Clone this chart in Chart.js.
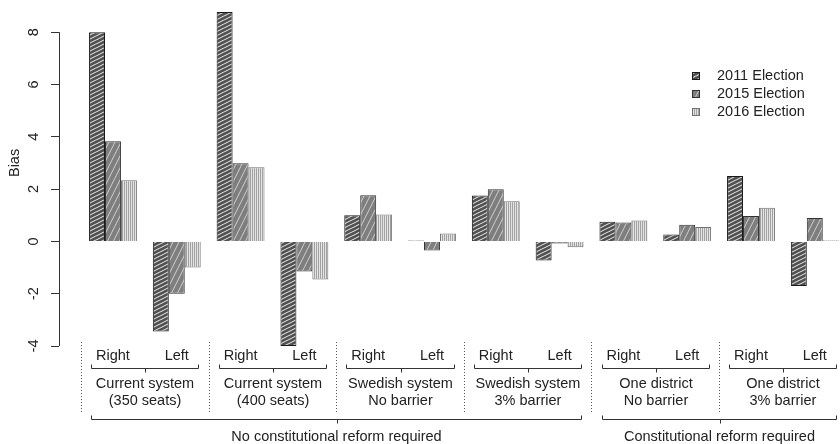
<!DOCTYPE html>
<html>
<head>
<meta charset="utf-8">
<script src="https://cdn.jsdelivr.net/npm/chart.js@4"></script>
<style>
  html, body { margin: 0; padding: 0; background: #fff; overflow: hidden; }
  canvas { display: block; }
</style>
</head>
<body>
<canvas id="chart" width="840" height="444"></canvas>
<script>
  // categories
  const sides = ['Right', 'Left', 'Right', 'Left', 'Right', 'Left', 'Right', 'Left', 'Right', 'Left', 'Right', 'Left'];
  const systems = [
    ['Current system', '(350 seats)'],
    ['Current system', '(400 seats)'],
    ['Swedish system', 'No barrier'],
    ['Swedish system', '3% barrier'],
    ['One district', 'No barrier'],
    ['One district', '3% barrier'],
  ];
  const reforms = ['No constitutional reform required', 'Constitutional reform required'];
  const reformSystems = [[0, 1, 2, 3], [4, 5]];
  const elections = ['2011 Election', '2015 Election', '2016 Election'];

  // series values (bias)
  const bias2011 = [8.0, -3.45, 8.77, -4.0, 1.0, 0.03, 1.75, -0.73, 0.75, 0.26, 2.5, -1.71];
  const bias2015 = [3.83, -2.0, 2.99, -1.15, 1.76, -0.35, 1.99, -0.08, 0.72, 0.64, 0.97, 0.89];
  const bias2016 = [2.34, -1.0, 2.83, -1.46, 1.03, 0.3, 1.53, -0.22, 0.8, 0.55, 1.29, 0.04];

  const yTicks = [-4, -2, 0, 2, 4, 6, 8];

  const FONT = "'Liberation Sans', Arial, sans-serif";
  const TEXT = '#222';
  Chart.defaults.font.family = FONT;
  Chart.defaults.font.size = 14.5;
  Chart.defaults.color = TEXT;

  const canvas = document.getElementById('chart');
  const mainCtx = canvas.getContext('2d');

  // small repeating tile -> canvas pattern
  function tile(w, h, bg, draw) {
    const c = document.createElement('canvas');
    c.width = w;
    c.height = h;
    const g = c.getContext('2d');
    g.fillStyle = bg;
    g.fillRect(0, 0, w, h);
    draw(g);
    return mainCtx.createPattern(c, 'repeat');
  }

  // dense shallow diagonal hatch
  const fill2011 = tile(8, 4, '#505050', (g) => {
    g.strokeStyle = '#dadada';
    g.lineWidth = 1.1;
    g.beginPath();
    for (let k = -1; k <= 1; k++) { g.moveTo(0, 4 + 4 * k); g.lineTo(8, 4 * k); }
    g.stroke();
  });
  // sparse steep diagonal hatch
  const fill2015 = tile(6, 12, '#7e7e7e', (g) => {
    g.strokeStyle = '#cfcfcf';
    g.lineWidth = 1;
    g.beginPath();
    for (let k = -1; k <= 1; k++) { g.moveTo(6 * k, 12); g.lineTo(6 + 6 * k, 0); }
    g.stroke();
  });
  // vertical stripes
  const fill2016 = tile(2, 1, '#e4e4e4', (g) => {
    g.fillStyle = '#a2a2a2';
    g.fillRect(0, 0, 1, 1);
  });

  const toPoints = (arr) => arr.map((v, i) => ({ x: i, y: v }));

  const annotations = {
    id: 'annotations',
    afterDraw(chart) {
      const ctx = chart.ctx;
      const xs = chart.scales.x;
      const ys = chart.scales.y;
      const area = chart.chartArea;
      const base = area.bottom;
      const unit = xs.getPixelForValue(1) - xs.getPixelForValue(0);
      const px = (v) => xs.getPixelForValue(v);

      ctx.save();
      ctx.font = `14.5px ${FONT}`;
      ctx.fillStyle = TEXT;
      ctx.strokeStyle = '#333';
      ctx.lineWidth = 1;

      // y axis line only between the extreme ticks
      const ax = Math.round(area.left) + 0.5;
      ctx.beginPath();
      ctx.moveTo(ax, ys.getPixelForValue(yTicks[0]));
      ctx.lineTo(ax, ys.getPixelForValue(yTicks[yTicks.length - 1]));
      ctx.stroke();

      // y title
      ctx.save();
      ctx.translate(15, ys.getPixelForValue(3));
      ctx.rotate(-Math.PI / 2);
      ctx.textAlign = 'center';
      ctx.textBaseline = 'middle';
      ctx.fillText('Bias', 0, 0);
      ctx.restore();

      // Right / Left labels
      ctx.textAlign = 'center';
      ctx.textBaseline = 'middle';
      sides.forEach((s, i) => ctx.fillText(s, px(i), base + 10));

      const bracket = (x0, x1, y, up, down) => {
        const mid = (x0 + x1) / 2;
        ctx.beginPath();
        ctx.moveTo(x0, y - up);
        ctx.lineTo(x0, y);
        ctx.lineTo(x1, y);
        ctx.lineTo(x1, y - up);
        ctx.moveTo(Math.round(mid) + 0.5, y);
        ctx.lineTo(Math.round(mid) + 0.5, y + down);
        ctx.stroke();
        return mid;
      };

      // system brackets and labels
      systems.forEach((lines, s) => {
        const x0 = Math.round(px(2 * s) - 0.34 * unit) + 0.5;
        const x1 = Math.round(px(2 * s + 1) + 0.34 * unit) + 0.5;
        const mid = bracket(x0, x1, base + 22.5, 4, 4);
        ctx.fillText(lines[0], mid, base + 38);
        ctx.fillText(lines[1], mid, base + 55);
      });

      // dotted separators
      ctx.save();
      ctx.setLineDash([1, 2]);
      ctx.strokeStyle = '#555';
      systems.forEach((_, s) => {
        const x = Math.round(px(2 * s - 0.5)) + 0.5;
        ctx.beginPath();
        ctx.moveTo(x, base - 4);
        ctx.lineTo(x, base + 66);
        ctx.stroke();
      });
      ctx.restore();

      // reform brackets
      reforms.forEach((label, r) => {
        const list = reformSystems[r];
        const first = list[0] * 2;
        const last = list[list.length - 1] * 2 + 1;
        const x0 = Math.round(px(first) - 0.34 * unit) + 0.5;
        const x1 = Math.round(px(last) + 0.34 * unit) + 0.5;
        const mid = bracket(x0, x1, base + 73.5, 4, 4);
        ctx.fillText(label, mid, base + 91);
      });

      // legend
      ctx.textAlign = 'left';
      chart.data.datasets.forEach((ds, i) => {
        const cy = 76 + i * 18;
        const bx = area.right - 148;
        ctx.fillStyle = ds.backgroundColor;
        ctx.fillRect(bx, cy - 4, 8, 8);
        ctx.strokeStyle = ds.borderColor;
        ctx.strokeRect(bx + 0.5, cy - 3.5, 7, 7);
        ctx.fillStyle = TEXT;
        ctx.fillText(ds.label, bx + 25, cy);
      });

      ctx.restore();
    },
  };

  new Chart(canvas, {
    type: 'bar',
    data: {
      datasets: [
        { label: elections[0], data: toPoints(bias2011), backgroundColor: fill2011, borderColor: '#1a1a1a', borderWidth: 1 },
        { label: elections[1], data: toPoints(bias2015), backgroundColor: fill2015, borderColor: '#333', borderWidth: 1 },
        { label: elections[2], data: toPoints(bias2016), backgroundColor: fill2016, borderColor: '#707070', borderWidth: 1 },
      ],
    },
    options: {
      responsive: false,
      animation: false,
      layout: { padding: { top: 6, bottom: 98, left: 0, right: 0 } },
      datasets: { bar: { categoryPercentage: 0.75, barPercentage: 1.0 } },
      plugins: { legend: { display: false }, tooltip: { enabled: false } },
      scales: {
        x: {
          type: 'linear',
          display: false,
          offset: false,
          min: -0.846,
          max: 11.395,
        },
        y: {
          min: -4,
          max: 9,
          afterBuildTicks: (scale) => { scale.ticks = yTicks.map((v) => ({ value: v })); },
          afterFit: (scale) => { scale.width = 59; scale.paddingTop = 0; scale.paddingBottom = 0; },
          border: { display: false },
          grid: { drawOnChartArea: false, tickLength: 8, color: '#333' },
          ticks: {
            minRotation: 90,
            maxRotation: 90,
            crossAlign: 'center',
            padding: 10.5,
            color: TEXT,
            font: { size: 14.5 },
          },
        },
      },
    },
    plugins: [annotations],
  });
</script>
</body>
</html>
